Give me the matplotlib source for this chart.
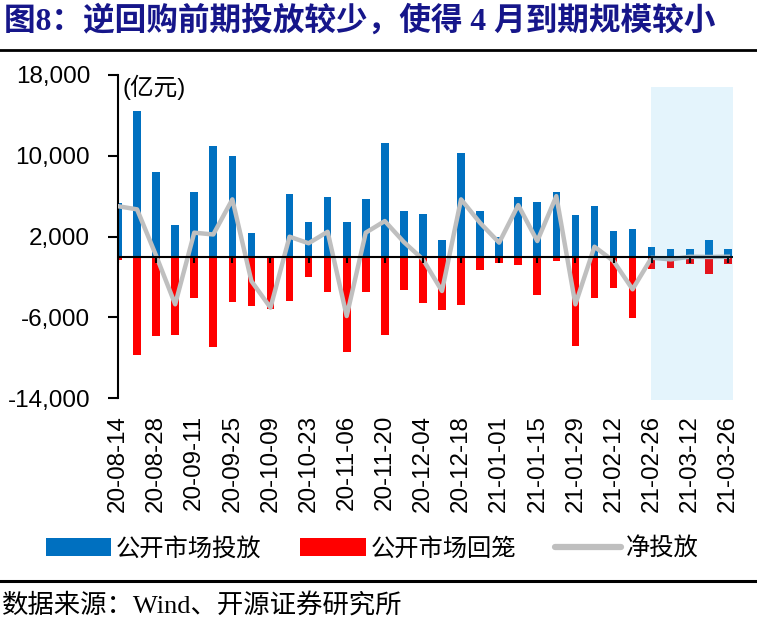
import matplotlib
matplotlib.use("Agg")
import matplotlib.pyplot as plt
import numpy as np
from matplotlib.patches import Patch
from matplotlib.lines import Line2D

plt.rcParams['font.family'] = ['Liberation Sans', 'Noto Sans CJK SC']
plt.rcParams['axes.unicode_minus'] = False

dates = ["20-08-14", "20-08-21", "20-08-28", "20-09-04", "20-09-11", "20-09-18",
         "20-09-25", "20-10-02", "20-10-09", "20-10-16", "20-10-23", "20-10-30",
         "20-11-06", "20-11-13", "20-11-20", "20-11-27", "20-12-04", "20-12-11",
         "20-12-18", "20-12-25", "21-01-01", "21-01-08", "21-01-15", "21-01-22",
         "21-01-29", "21-02-05", "21-02-12", "21-02-19", "21-02-26", "21-03-05",
         "21-03-12", "21-03-19", "21-03-26"]

inject = [5300, 14400, 8350, 3100, 6450, 11000, 10000, 2350, 100, 6250, 3450, 5900,
          3450, 5750, 11300, 4550, 4250, 1700, 10300, 4550, 2000, 5900, 5400, 6400,
          4100, 5050, 2550, 2750, 1000, 750, 750, 1700, 750]

drain = [-360, -9770, -7850, -7760, -4125, -8940, -4455, -4850, -5200, -4350, -2050, -3450,
         -9400, -3450, -7800, -3270, -4600, -5250, -4800, -1350, -660, -830, -3800, -400,
         -8850, -4100, -3070, -6050, -1190, -1090, -760, -1750, -760]

net = [5000, 4690, 100, -4720, 2380, 2200, 5680, -2420, -5050, 1980, 1330, 2470,
       -5880, 2380, 3530, 1450, -270, -3400, 5680, 3350, 1390, 5110, 1550, 6000,
       -4720, 990, -430, -3230, -100, -270, 0, -30, 0]

yticks = [-14000, -6000, 2000, 10000, 18000]

legend_labels = ["公开市场投放", "公开市场回笼", "净投放"]
title = "图8：逆回购前期投放较少，使得 4 月到期规模较小"
unit = "(亿元)"
source = "数据来源：Wind、开源证券研究所"

BLUE = '#0070C0'
RED = '#FF0000'
GRAY = '#BFBFBF'

fig = plt.figure(figsize=(7.57, 6.22), dpi=100)
W, H = 757, 622
ax = fig.add_axes([118 / W, 1 - 398 / H, 615 / W, 323 / H])

x = np.arange(len(dates))
ax.bar(x, inject, width=0.4, color=BLUE, zorder=2)
ax.bar(x, drain, width=0.4, color=RED, zorder=2)
ax.plot(x, net, color=GRAY, lw=3.2, zorder=3)
ax.axhline(0, color='black', lw=1.5, zorder=4)
ax.vlines(x[::2], -650, 0, color='black', lw=1.5, zorder=4)

ax.set_xlim(0, 32.27)
ax.set_ylim(-14000, 18000)
ax.set_yticks(yticks)
ax.set_yticklabels([f"{v:,}" for v in yticks])
ax.set_xticks(x[::2])
ax.set_xticklabels([dates[i] for i in x[::2]], rotation=90)

for s in ['top', 'right', 'bottom']:
    ax.spines[s].set_visible(False)
ax.spines['left'].set_linewidth(1.5)
ax.tick_params(axis='y', length=7, width=1.5, pad=13, labelsize=17.5, direction='out')
ax.tick_params(axis='x', length=0, pad=12, labelsize=17.4)

ax.axvspan(27.96, 32.27, ymin=-0.006, ymax=0.9625, color='#22AAED', alpha=0.12,
           lw=0, zorder=5, clip_on=False)

fig.text(122 / W, 1 - 87 / H, unit, fontsize=17, va='center', ha='left')

# title and rules
fig.text(4 / W, 1 - 21 / H, title, fontsize=22.8, fontweight='bold', color='#16168A',
         va='center', ha='left', family=['Liberation Serif', 'Noto Sans CJK SC'])
fig.add_artist(Line2D([0, 1], [1 - 50 / H] * 2, color='black', lw=2))
fig.add_artist(Line2D([0, 1], [1 - 581 / H] * 2, color='black', lw=2.2))
fig.text(2 / W, 1 - 606 / H, source, fontsize=19, va='center', ha='left',
         family=['Liberation Serif', 'Noto Sans CJK SC'])

handles = [Patch(facecolor=BLUE, edgecolor='none'),
           Patch(facecolor=RED, edgecolor='none'),
           Line2D([0], [0], color=GRAY, lw=4.5, solid_capstyle='round')]
fig.legend(handles, legend_labels, ncol=3, loc='center',
           bbox_to_anchor=(372 / W, 1 - 549 / H), frameon=False,
           fontsize=17.5, handlelength=2.7, handleheight=0.7,
           handletextpad=0.2, columnspacing=1.6)

fig.savefig("out.png", dpi=100)
